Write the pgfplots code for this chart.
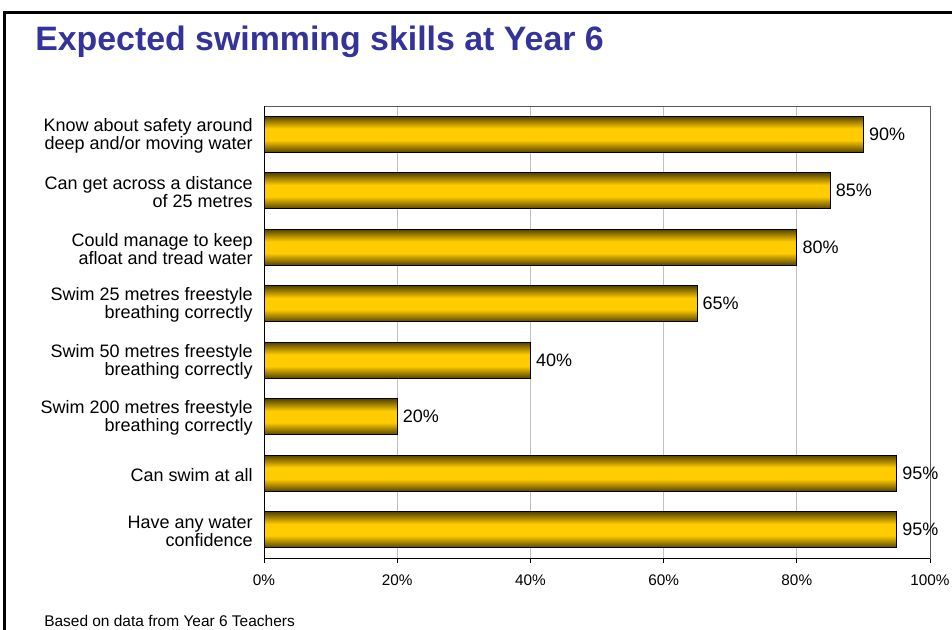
\documentclass[border=0pt]{standalone}
\usepackage{fontspec}
\setmainfont{Liberation Sans}
\usepackage{pgfplots}
\pgfplotsset{compat=1.18}
\definecolor{titleblue}{RGB}{51,51,153}
\definecolor{bardark}{RGB}{84,66,0}
\definecolor{bargold}{RGB}{255,204,0}
\definecolor{gridgray}{RGB}{192,192,192}
\pgfdeclareverticalshading{goldbar}{100bp}{color(0bp)=(bardark); color(25bp)=(bardark); color(42bp)=(bargold); color(58bp)=(bargold); color(75bp)=(bardark); color(100bp)=(bardark)}
\pgfplotsset{
  gbar/.style={xbar, bar shift=0pt, bar width=0.64, draw=black, line width=0.6pt, shading=goldbar, point meta=x}
}
\begin{document}
\begin{tikzpicture}
\useasboundingbox (0pt,0pt) rectangle (714pt,-471.75pt);
\begin{scope}[x=0.75pt,y=-0.75pt]
\clip (0,0) rectangle (952,629);
\draw[line width=2.25pt] (4.75,12.5) rectangle (1000,700);
\node[anchor=base west, font=\bfseries\fontsize{25.4}{30}\selectfont, text=titleblue, inner sep=0pt] at (35,50) {Expected swimming skills at Year 6};
\node[anchor=base west, font=\fontsize{11.6}{14}\selectfont, inner sep=0pt] at (44,626) {Based on data from Year 6 Teachers};
\end{scope}
\begin{axis}[
  at={(198pt,-418.5pt)}, anchor=south west,
  scale only axis, width=499.5pt, height=339pt,
  xmin=0, xmax=100, ymin=-0.5, ymax=7.5,
  axis line style={draw=gray!70!black, line width=0.6pt},
  xtick={0,20,...,100}, xtick pos=bottom,
  xticklabels={0\%,20\%,40\%,60\%,80\%,100\%},
  tick align=outside, major tick length=3.75pt,
  x tick style={black, line width=0.6pt},
  xmajorgrids, grid style={gridgray, line width=0.6pt},
  ytick={0,...,7}, y tick style={draw=none},
  yticklabels={{Have any water\\confidence},{Can swim at all},{Swim 200 metres freestyle\\breathing correctly},{Swim 50 metres freestyle\\breathing correctly},{Swim 25 metres freestyle\\breathing correctly},{Could manage to keep\\afloat and tread water},{Can get across a distance\\of 25 metres},{Know about safety around\\deep and/or moving water}},
  yticklabel style={align=right, font=\fontsize{13.5}{13.5}\selectfont, inner sep=0pt, xshift=-4.5pt, yshift=-1pt},
  xticklabel style={font=\fontsize{11.5}{14}\selectfont, yshift=-5pt},
  /pgf/number format/assume math mode=true,
  nodes near coords={\pgfmathprintnumber{\pgfplotspointmeta}\%},
  nodes near coords align=horizontal,
  every node near coord/.append style={font=\fontsize{13.5}{16}\selectfont, inner sep=0pt, xshift=4pt},
  clip=false,
]
\addplot[gbar] coordinates {(95,0)};
\addplot[gbar] coordinates {(95,1)};
\addplot[gbar] coordinates {(20,2)};
\addplot[gbar] coordinates {(40,3)};
\addplot[gbar] coordinates {(65,4)};
\addplot[gbar] coordinates {(80,5)};
\addplot[gbar] coordinates {(85,6)};
\addplot[gbar] coordinates {(90,7)};
\draw[black, line width=0.6pt] (rel axis cs:0,1) -- (rel axis cs:0,0) -- (rel axis cs:1,0);
\end{axis}
\end{tikzpicture}
\end{document}
